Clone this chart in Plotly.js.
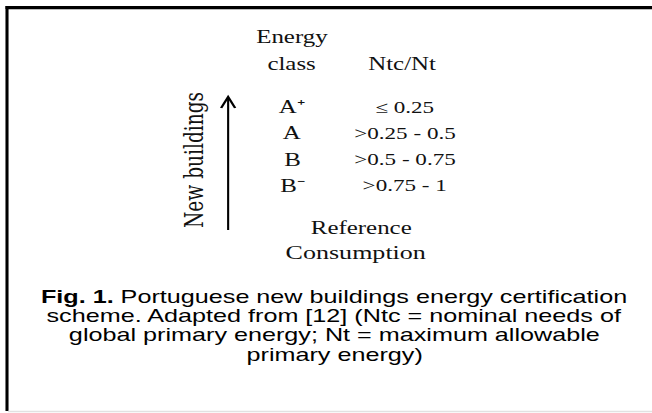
<!DOCTYPE html>
<html>
<head>
<meta charset="utf-8">
<script src="https://cdn.plot.ly/plotly-3.0.1.min.js"></script>
<style>
html,body{margin:0;padding:0;background:#fff;overflow:hidden;}
#wrap{width:652px;height:413px;overflow:hidden;position:relative;}
#chart{position:absolute;left:0;top:0;transform-origin:0 0;}
</style>
</head>
<body>
<div id="wrap"><div id="chart"></div></div>
<script>
// ---- data ----
const classHeader = ["Energy", "class"];
const ratioHeader = "Ntc/Nt";
const energyClasses = ["A⁺", "A", "B", "B⁻"];
const ratioRanges = ["≤ 0.25", ">0.25 - 0.5", ">0.5 - 0.75", ">0.75 - 1"];
const sideLabel = "New buildings";
const baseLabel = ["Reference", "Consumption"];
const captionLines = [
  "<b>Fig. 1.</b> Portuguese new buildings energy certification",
  "scheme. Adapted from [12] (Ntc = nominal needs of",
  "global primary energy; Nt = maximum allowable",
  "primary energy)"
];

// ---- layout helpers ----
const W = 652, H = 413, S = 1.4;
const el = document.getElementById('chart');
el.style.width = (W / S) + 'px';
el.style.height = H + 'px';
el.style.transform = 'scaleX(' + S + ')';
const px = x => x / W;
const py = y => 1 - y / H;

const serif = {family: "Liberation Serif, Times New Roman, serif", size: 17.8, color: "#111"};
const serifVal = {family: "Liberation Serif, Times New Roman, serif", size: 16.5, color: "#111"};
const sans = {family: "Liberation Sans, Arial, sans-serif", size: 18, color: "#000"};

const ann = [];
function txt(text, x, y, font, extra) {
  ann.push(Object.assign({text: text, x: px(x), y: py(y), xref: 'paper', yref: 'paper',
    showarrow: false, xanchor: 'center', yanchor: 'middle', font: font}, extra || {}));
}

const classX = 292, ratioX = 405;
txt(classHeader[0], classX, 37, serif);
txt(classHeader[1], classX, 64, serif);
txt(ratioHeader, ratioX - 4, 64, serif);

const rowY0 = 107, rowStep = 26.3;
energyClasses.forEach((c, i) => txt(c, classX, rowY0 + i * rowStep, serif));
ratioRanges.forEach((r, i) => txt(r, ratioX, rowY0 + i * rowStep, serifVal));

txt(baseLabel[0], 361, 228, serif);
txt(baseLabel[1], 356, 253, {family: serif.family, size: 18.6, color: serif.color});

txt(sideLabel, 193, 160, {family: "DejaVu Serif, serif", size: 18.6, color: "#111"}, {textangle: -90});

// arrow (shaft + open head)
const arrowX = 228, arrowTop = 97, arrowBottom = 230;
const shapes = [
  {type: 'line', xref: 'paper', yref: 'paper', x0: px(arrowX), x1: px(arrowX), y0: py(arrowBottom), y1: py(arrowTop + 1),
    line: {color: '#000', width: 1.5}},
  {type: 'path', xref: 'paper', yref: 'paper',
    path: 'M' + px(arrowX - 7) + ',' + py(arrowTop + 11) + ' L' + px(arrowX) + ',' + py(arrowTop) + ' L' + px(arrowX + 7) + ',' + py(arrowTop + 11),
    line: {color: '#000', width: 1.8}},
  {type: 'line', xref: 'paper', yref: 'paper', x0: px(5.5), x1: 1.01, y0: py(7.5), y1: py(7.5), line: {color: '#000', width: 3}},
  {type: 'line', xref: 'paper', yref: 'paper', x0: px(6), x1: 1.01, y0: py(9.5), y1: py(9.5), line: {color: '#bbb', width: 1}},
  {type: 'line', xref: 'paper', yref: 'paper', x0: px(7), x1: px(7), y0: py(6), y1: py(411), line: {color: '#000', width: 2.2}},
  {type: 'line', xref: 'paper', yref: 'paper', x0: px(8), x1: 1.01, y0: py(411.5), y1: py(411.5), line: {color: '#e2e2e2', width: 1.5}}
];

const capY0 = 297, capStep = 19.2;
captionLines.forEach((l, i) => txt(l, 334, capY0 + i * capStep, sans));

Plotly.newPlot(el, [], {
  width: W / S, height: H,
  margin: {l: 0, r: 0, t: 0, b: 0},
  paper_bgcolor: '#fff', plot_bgcolor: '#fff',
  xaxis: {visible: false, range: [0, 1]},
  yaxis: {visible: false, range: [0, 1]},
  showlegend: false,
  annotations: ann,
  shapes: shapes
}, {staticPlot: true, displayModeBar: false});
</script>
</body>
</html>
